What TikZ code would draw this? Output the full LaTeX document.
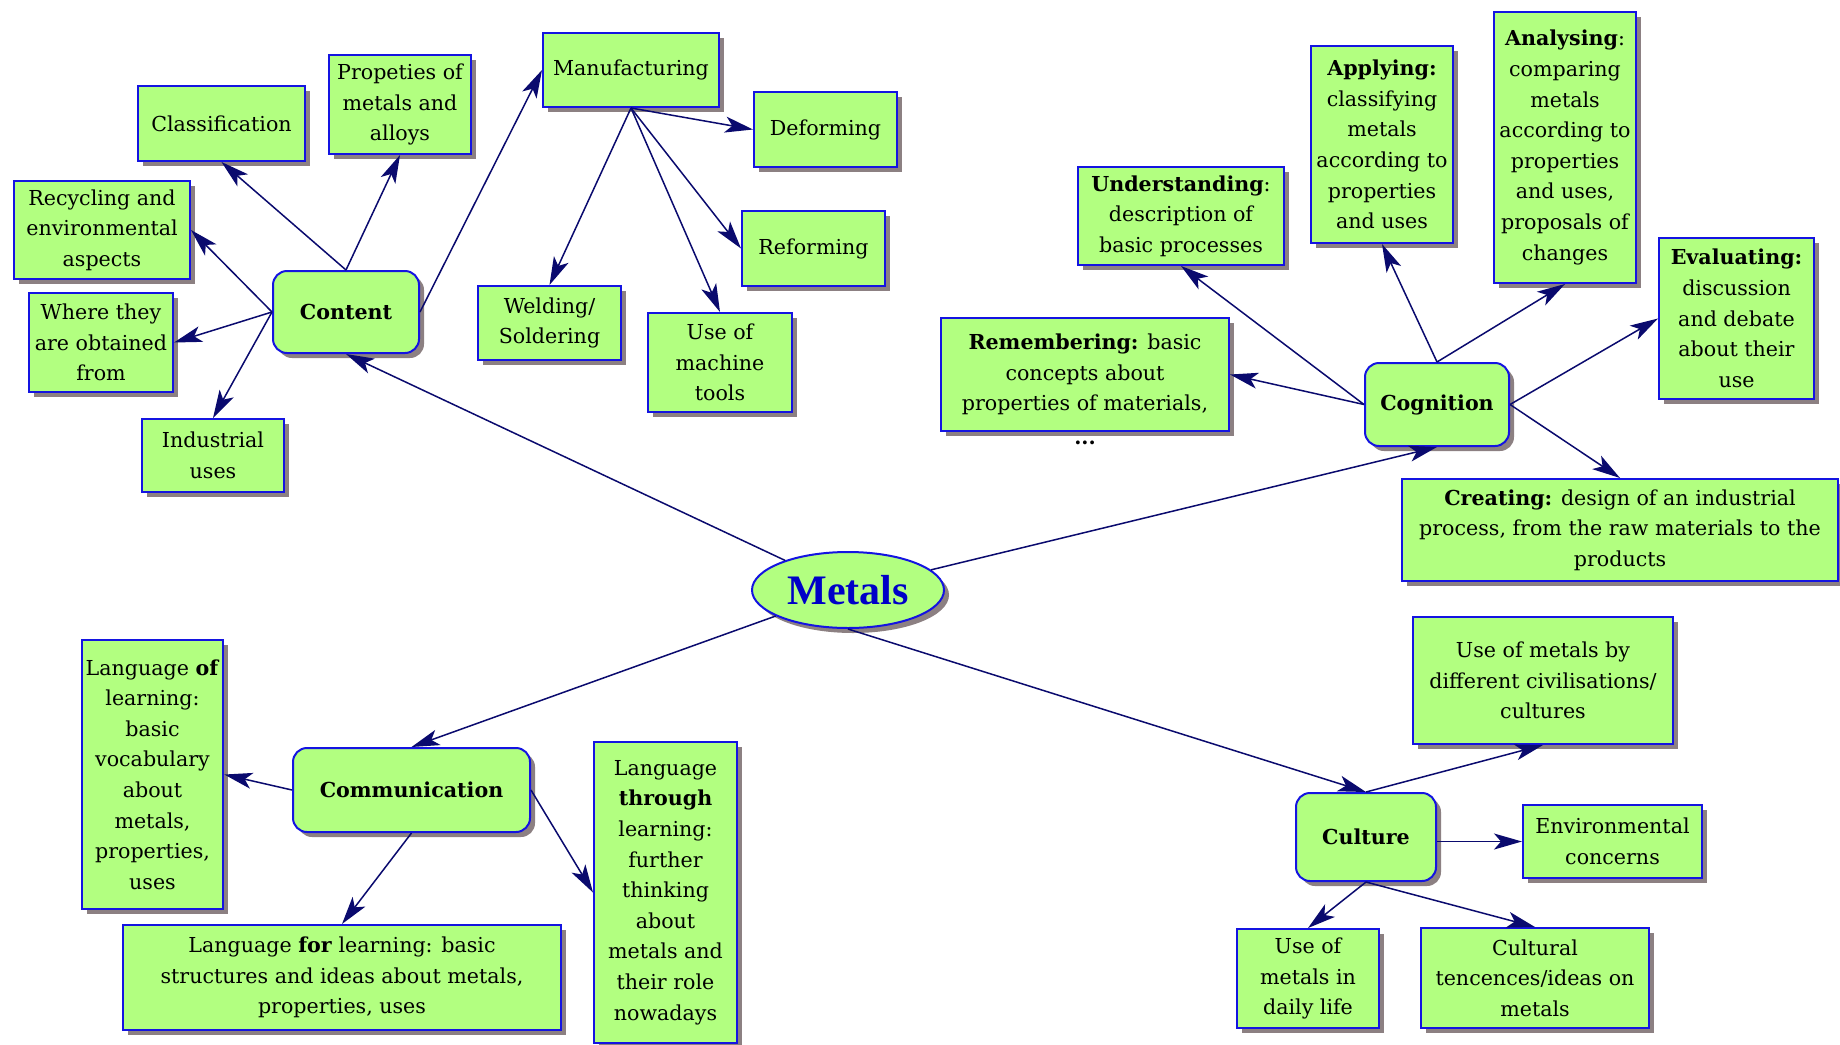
\documentclass[tikz,border=0pt]{standalone}
\usepackage{fontspec}
\setmainfont{DejaVu Serif}
\newfontfamily\timesfont{Liberation Serif}
\usetikzlibrary{arrows.meta,shapes.geometric,shadows}
\definecolor{boxgreen}{RGB}{178,255,128}
\definecolor{boxblue}{RGB}{20,20,225}
\definecolor{linenavy}{RGB}{10,10,110}
\definecolor{shadowgray}{RGB}{140,128,130}
\definecolor{metalsblue}{RGB}{0,0,200}

\begin{document}
\begin{tikzpicture}[x=0.5pt, y=-0.5pt,
    every node/.style={align=center, font=\fontsize{10.3}{15.3}\selectfont},
    box/.style={draw=boxblue, line width=1pt, fill=boxgreen, inner sep=2pt,
      drop shadow={shadow xshift=2.5pt, shadow yshift=-2.5pt, fill=shadowgray, opacity=1}},
    topic/.style={box, rounded corners=7pt, font=\fontsize{10.3}{15.3}\selectfont\bfseries},
    link/.style={draw=linenavy, line width=0.75pt, -{Stealth[length=14pt, width=8pt, inset=3.5pt]}}]

    \fill[white] (0,0) rectangle (1840,1044);
    \useasboundingbox (0,0) rectangle (1840,1044);

    % Nodes
    \node[box, ellipse, minimum width=96pt, minimum height=38pt, inner sep=0pt,
      font=\timesfont\fontsize{21}{21}\selectfont\bfseries, text=metalsblue] (metals) at (848,590) {Metals};

    \node[topic, minimum width=73pt, minimum height=41pt] (content) at (346,312) {Content};
    \node[box, minimum width=83.5pt, minimum height=37.5pt] (classif) at (221.5,123.5) {Classification};
    \node[box, minimum width=71pt, minimum height=49.5pt] (propet) at (400,104.5) {Propeties of\\metals and\\alloys};
    \node[box, minimum width=88pt, minimum height=49pt] (recycl) at (102,230) {Recycling and\\environmental\\aspects};
    \node[box, minimum width=72pt, minimum height=49.5pt] (where) at (101,342.5) {Where they\\are obtained\\from};
    \node[box, minimum width=71pt, minimum height=36.5pt] (indust) at (213,455.5) {Industrial\\uses};
    \node[box, minimum width=88pt, minimum height=37pt] (manuf) at (631,70) {Manufacturing};
    \node[box, minimum width=71.5pt, minimum height=37.5pt] (deform) at (825.5,129.5) {Deforming};
    \node[box, minimum width=71.5pt, minimum height=37.5pt] (reform) at (813.5,248.5) {Reforming};
    \node[box, minimum width=71.5pt, minimum height=37pt] (weld) at (549.5,323) {Welding/\\Soldering};
    \node[box, minimum width=72pt, minimum height=49.5pt] (machine) at (720,362.5) {Use of\\machine\\tools};

    \node[topic, minimum width=72pt, minimum height=41.5pt] (cognit) at (1437,404.5) {Cognition};
    \node[box, minimum width=144pt, minimum height=56.5pt,
      label={[inner sep=0pt, yshift=-4.5pt]below:\textbf{...}}] (remember) at (1085,374.5)
      {\textbf{Remembering:} basic\\concepts about\\properties of materials,};
    \node[box, minimum width=103pt, minimum height=49pt] (underst) at (1181,216) {\textbf{Understanding}:\\description of\\basic processes};
    \node[box, minimum width=71pt, minimum height=98.5pt] (apply) at (1382,144.5) {\textbf{Applying:}\\classifying\\metals\\according to\\properties\\and uses};
    \node[box, minimum width=71pt, minimum height=135.5pt] (analys) at (1565,147.5) {\textbf{Analysing}:\\comparing\\metals\\according to\\properties\\and uses,\\proposals of\\changes};
    \node[box, minimum width=77.5pt, minimum height=80.5pt] (evaluat) at (1736.5,318.5) {\textbf{Evaluating:}\\discussion\\and debate\\about their\\use};
    \node[box, minimum width=218pt, minimum height=51pt] (creat) at (1620,530) {\textbf{Creating:} design of an industrial\\process, from the raw materials to the\\products};

    \node[topic, minimum width=118.5pt, minimum height=42pt] (commun) at (411.5,790) {Communication};
    \node[box, minimum width=70.5pt, minimum height=134.5pt] (langof) at (152.5,774.5) {Language \textbf{of}\\learning:\\basic\\vocabulary\\about\\metals,\\properties,\\uses};
    \node[box, minimum width=219pt, minimum height=52.5pt] (langfor) at (342,977.5) {Language \textbf{for} learning: basic\\structures and ideas about metals,\\properties, uses};
    \node[box, minimum width=71.5pt, minimum height=150.5pt] (langthr) at (665.5,892.5) {Language\\\textbf{through}\\learning:\\further\\thinking\\about\\metals and\\their role\\nowadays};

    \node[topic, minimum width=70pt, minimum height=44pt] (culture) at (1366,837) {Culture};
    \node[box, minimum width=130pt, minimum height=63.5pt] (civil) at (1543,680.5) {Use of metals by\\different civilisations/\\cultures};
    \node[box, minimum width=89.5pt, minimum height=36.5pt] (envir) at (1612.5,841.5) {Environmental\\concerns};
    \node[box, minimum width=71pt, minimum height=49.5pt] (daily) at (1308,978.5) {Use of\\metals in\\daily life};
    \node[box, minimum width=114pt, minimum height=50pt] (tenc) at (1535,978) {Cultural\\tencences/ideas on\\metals};

    % Lines
    \draw[link] (metals) -- (content.south);
    \draw[link] (metals) -- (cognit.south);
    \draw[link] (metals) -- (commun.north);
    \draw[link] (metals.south) -- (culture.north);

    \draw[link] (content.north) -- (classif.south);
    \draw[link] (content.north) -- (propet.south);
    \draw[link] (content.west) -- (recycl.east);
    \draw[link] (content.west) -- (where.east);
    \draw[link] (content.west) -- (indust.north);
    \draw[link] (content.east) -- (manuf.west);

    \draw[link] (manuf.south) -- (deform.west);
    \draw[link] (manuf.south) -- (reform.west);
    \draw[link] (manuf.south) -- (weld.north);
    \draw[link] (manuf.south) -- (machine.north);

    \draw[link] (cognit.west) -- (remember.east);
    \draw[link] (cognit.west) -- (underst.south);
    \draw[link] (cognit.north) -- (apply.south);
    \draw[link] (cognit.north) -- (analys.south);
    \draw[link] (cognit.east) -- (evaluat.west);
    \draw[link] (cognit.east) -- (creat.north);

    \draw[link] (commun.west) -- (langof.east);
    \draw[link] (commun.south) -- (langfor.north);
    \draw[link] (commun.east) -- (langthr.west);

    \draw[link] (culture.north) -- (civil.south);
    \draw[link] (culture.east |- envir.west) -- (envir.west);
    \draw[link] (culture.south) -- (daily.north);
    \draw[link] (culture.south) -- (tenc.north);

\end{tikzpicture}
\end{document}
